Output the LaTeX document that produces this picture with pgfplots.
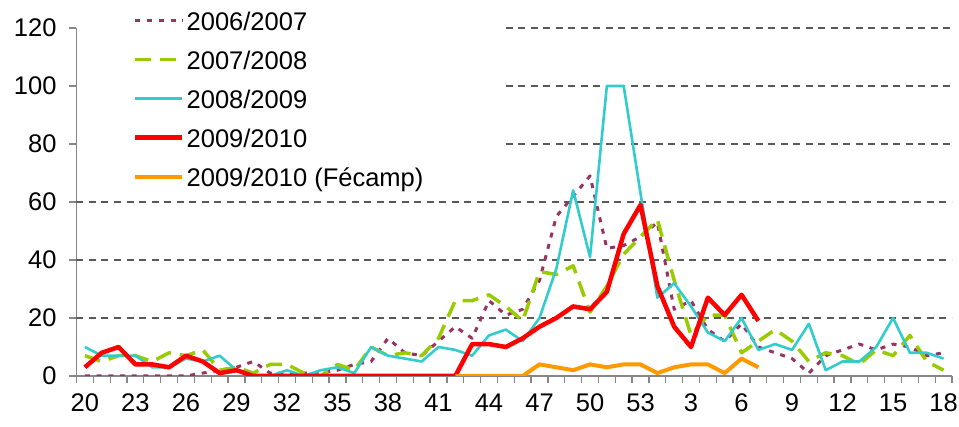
\documentclass[border=0pt]{standalone}
\usepackage{pgfplots}
\pgfplotsset{compat=1.18}
\usepackage{pgfplotstable}
\usepackage{fontspec}
\setmainfont{Liberation Sans}

\definecolor{cPurple}{RGB}{153,51,102}
\definecolor{cGreen}{RGB}{153,204,0}
\definecolor{cCyan}{RGB}{51,204,204}
\definecolor{cRed}{RGB}{255,0,0}
\definecolor{cOrange}{RGB}{255,153,0}
\definecolor{axisgray}{RGB}{134,134,134}

\tikzset{grid line/.style={black!65, dash pattern=on 7pt off 5.5pt, line width=1.3pt}}

% i = position (0 = week 20 ... 33 = week 53, 34 = week 1 ... 51 = week 18)
\pgfplotstableread{
i  s0607 s0708 s0809 s0910 fecamp
0  0   7   10  3   nan
1  0   5   7   8   nan
2  0   7   7   10  nan
3  0   7   7   4   nan
4  0   5   3   4   nan
5  0   8   3   3   nan
6  0   7   6   7   nan
7  1   9   5   5   nan
8  2   2   7   1   nan
9  3   3   2   2   nan
10 5   1   0   0   nan
11 1   4   0   0   nan
12 1   4   2   0   nan
13 1   1   0   0   nan
14 1   0   2   0   nan
15 2   4   3   0   nan
16 4   2   1   0   nan
17 5   10  10  0   nan
18 13  7   7   0   nan
19 8   8   6   0   nan
20 7   7   5   0   nan
21 12  13  10  0   nan
22 17  26  9   0   0
23 13  26  7   11  0
24 26  28  14  11  0
25 21  24  16  10  0
26 23  19  12  13  0
27 33  36  20  17  4
28 55  35  37  20  3
29 62  38  64  24  2
30 69  22  41  23  4
31 44  31  100 29  3
32 45  42  100 49  4
33 48  48  63  59  4
34 53  54  27  31  1
35 23  33  32  17  3
36 26  14  24  10  4
37 16  21  15  27  4
38 12  21  12  21  1
39 18  8   20  28  6
40 10  12  9   19  3
41 8   16  11  nan nan
42 6   12  9   nan nan
43 1   5   18  nan nan
44 7   8   2   nan nan
45 9   7   5   nan nan
46 11  4   5   nan nan
47 9   9   10  nan nan
48 11  7   20  nan nan
49 10  14  8   nan nan
50 7   5   8   nan nan
51 8   2   6   nan nan
}\weekly

\begin{document}
\begin{tikzpicture}
\begin{axis}[
    scale only axis,
    width=875.5pt, height=348pt,
    xmin=-0.5, xmax=51.5,
    ymin=0, ymax=120,
    axis x line*=bottom, axis y line*=left,
    axis line style={-, draw=axisgray, line width=1.5pt},
    tick style={draw=axisgray, line width=1.3pt},
    tick align=outside,
    major tick length=7.5pt,
    ytick={0,20,...,120},
    xtick={-0.5,0.5,...,51.5},
    xticklabels={},
    extra x ticks={0,3,...,51},
    extra x tick labels={20,23,26,29,32,35,38,41,44,47,50,53,3,6,9,12,15,18},
    extra x tick style={major tick length=0pt, xticklabel style={yshift=-14pt}},
    yticklabel style={xshift=-9pt},
    tick label style={font=\fontsize{25.5}{30}\selectfont},
    /pgf/number format/assume math mode=true,
    unbounded coords=jump,
    legend cell align=left,
    legend style={at={(0.0611,1.0517)}, anchor=north west, draw=none, fill=none,
        font=\fontsize{25.5}{30}\selectfont, inner xsep=3pt, inner ysep=2pt,
        row sep=16pt, column sep=2pt,
        nodes={inner sep=0pt, text height=18pt, text depth=5pt}},
    legend image code/.code={\draw[#1] (0pt,3pt) -- (47pt,3pt);},
    every axis plot/.append style={line join=round},
]
% horizontal grid; the upper lines stop where the legend box ends
\draw[grid line] (axis cs:-0.5,20) -- (axis cs:51.5,20);
\draw[grid line] (axis cs:-0.5,40) -- (axis cs:51.5,40);
\draw[grid line] (axis cs:-0.5,60) -- (axis cs:51.5,60);
\draw[grid line] (axis cs:25,80) -- (axis cs:51.5,80);
\draw[grid line] (axis cs:25,100) -- (axis cs:51.5,100);
\draw[grid line] (axis cs:25,120) -- (axis cs:51.5,120);

\addplot[cPurple, line width=3pt, dash pattern=on 5pt off 6.7pt] table[x=i, y=s0607] {\weekly};
\addlegendentry{2006/2007}
\addplot[cGreen, line width=3.5pt, dash pattern=on 16pt off 9pt] table[x=i, y=s0708] {\weekly};
\addlegendentry{2007/2008}
\addplot[cCyan, line width=2.6pt] table[x=i, y=s0809] {\weekly};
\addlegendentry{2008/2009}
\addplot[cRed, line width=4.5pt] table[x=i, y=s0910] {\weekly};
\addlegendentry{2009/2010}
\addplot[cOrange, line width=4pt] table[x=i, y=fecamp] {\weekly};
\addlegendentry{2009/2010 (Fécamp)}
\end{axis}
\pgfresetboundingbox
\path[use as bounding box] (-76.5pt,-51pt) rectangle (882.5pt,376pt);
\end{tikzpicture}
\end{document}
